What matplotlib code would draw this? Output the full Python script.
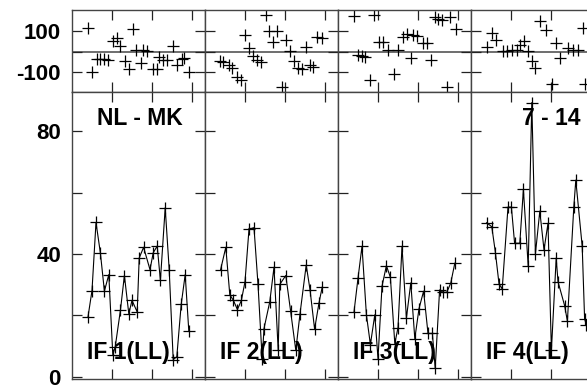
import matplotlib
matplotlib.use("Agg")
import matplotlib.pyplot as plt

plt.rcParams['font.family'] = ['Liberation Sans', 'DejaVu Sans']
plt.rcParams['font.weight'] = 'bold'

# ---- data: main panels (flux) ----
x1 = [4.0, 5.0, 6.0, 7.1, 8.1, 9.2, 10.2, 10.8, 12.1, 13.1, 14.2, 15.0, 16.3, 16.8, 17.9, 19.5, 20.3, 21.3, 22.1, 23.3, 24.3, 25.3, 26.2, 27.3, 28.3, 29.2]
v1 = [19.5, 28.1, 50.3, 40.3, 27.9, 33.3, 7.2, 9.7, 21.6, 33.0, 20.5, 24.9, 21.1, 38.7, 42.2, 34.9, 40.4, 42.6, 31.4, 55.1, 34.9, 5.6, 6.5, 23.6, 33.3, 14.9]
x2 = [3.9, 5.2, 6.2, 7.1, 8.1, 9.1, 10.0, 11.0, 12.25, 13.25, 14.3, 14.75, 16.2, 17.25, 18.3, 18.7, 20.2, 21.4, 22.7, 23.75, 25.3, 26.25, 27.4, 28.5, 29.3]
v2 = [34.9, 42.2, 26.7, 24.9, 21.9, 24.9, 31.0, 48.1, 48.6, 30.1, 5.7, 15.7, 24.5, 35.7, 8.6, 30.1, 33.0, 21.4, 8.6, 20.5, 36.4, 28.4, 15.5, 24.1, 29.2]
x3 = [4.0, 5.0, 6.0, 7.1, 8.1, 9.2, 10.0, 11.0, 12.1, 13.1, 14.2, 15.0, 16.0, 17.1, 18.2, 19.2, 20.25, 21.4, 22.5, 23.6, 24.3, 25.4, 26.3, 27.2, 28.2, 29.2]
v3 = [21.1, 32.1, 42.5, 20.2, 10.5, 20.2, 5.9, 29.5, 36.2, 32.4, 10.8, 16.0, 42.5, 19.1, 30.6, 12.4, 22.2, 27.9, 14.1, 14.1, 2.7, 28.3, 27.5, 27.5, 30.6, 37.0]
x4 = [3.9, 5.2, 6.1, 7.0, 7.8, 9.25, 10.1, 10.9, 12.2, 13.1, 14.3, 15.2, 16.1, 17.2, 18.25, 19.25, 20.1, 21.3, 21.75, 23.4, 24.1, 25.7, 26.2, 27.8, 28.4, 28.8]
v4 = [50.2, 48.9, 40.5, 30.3, 28.6, 55.3, 55.3, 43.5, 43.5, 61.1, 36.0, 89.4, 40.0, 54.0, 41.4, 50.0, 8.6, 38.7, 31.0, 23.2, 18.1, 55.3, 64.1, 42.5, 18.9, 17.0]

# ---- data: residual panels ----
rx1 = [4.1, 5.1, 6.2, 7.0, 8.0, 9.1, 10.2, 11.2, 12.0, 13.25, 14.3, 15.3, 16.0, 17.2, 17.7, 18.8, 20.3, 21.2, 21.8, 22.8, 23.8, 25.2, 26.2, 27.4, 28.1, 29.3]
r1 = [117, -98, -35, -35, -35, -41, 51, 67, 27, -46, -87, 112, 7, -55, 7, 2, -84, -84, -25, -38, -41, 30, -63, -35, -30, -100]
rx2 = [3.75, 4.6, 6.1, 6.7, 7.9, 8.9, 10.0, 11.1, 12.1, 12.9, 13.9, 15.25, 16.0, 17.1, 18.1, 19.2, 20.25, 21.25, 22.25, 23.3, 24.2, 25.25, 26.25, 27.1, 28.1, 29.2]
r2 = [-46, -50, -67, -79, -124, -139, 84, 19, -22, -38, -51, 181, 100, 46, 100, -172, 59, 6, -43, -79, -84, 24, -63, -76, 72, 67]
rx3 = [4.0, 5.1, 5.9, 6.75, 8.0, 9.0, 10.3, 11.2, 12.4, 14.0, 15.1, 16.3, 17.3, 18.2, 18.8, 19.8, 21.3, 22.3, 23.2, 24.25, 25.0, 25.9, 27.2, 28.0, 29.5]
r3 = [177, -15, -22, -25, -141, 181, 46, 48, 11, -111, 11, 72, 89, -30, 84, 79, 43, 43, -38, 173, 160, 154, -173, 173, 112]
rx4 = [4.1, 5.2, 6.25, 8.1, 8.9, 10.2, 11.4, 12.25, 13.25, 14.3, 15.2, 16.0, 17.25, 18.75, 20.2, 21.25, 22.25, 24.3, 25.4, 26.8, 27.9, 28.5]
r4 = [24, 92, 56, 2, 2, 11, 11, 35, 51, 2, -46, -79, 149, 105, -160, 43, -30, 19, 11, 7, 116, -160]

panel_labels = ["IF 1(LL)", "IF 2(LL)", "IF 3(LL)", "IF 4(LL)"]
title_left = "NL - MK"
title_right = "7 - 14"
main_yticks = [0, 20, 40, 60, 80]
main_ylabels = ["0", "", "40", "", "80"]
res_yticks = [-100, 0, 100]
res_ylabels = ["-100", "", "100"]
xticks = [10, 20, 30]

main_x = [x1, x2, x3, x4]
main_v = [v1, v2, v3, v4]
res_x = [rx1, rx2, rx3, rx4]
res_v = [r1, r2, r3, r4]

W, H = 587, 388
fig = plt.figure(figsize=(W / 100, H / 100), dpi=100)

def px_axes(left, top, width, height):
    return fig.add_axes([left / W, 1 - (top + height) / H, width / W, height / H])

lefts = [72, 205, 338, 471]
pw = 133
spine_col = '#444444'
fs = 16

for i in range(4):
    axr = px_axes(lefts[i], 10, pw, 81.5)
    axm = px_axes(lefts[i], 91.5, pw, 287.5)
    for ax in (axr, axm):
        ax.set_xlim(0, 33.25)
        ax.set_xticks(xticks)
        ax.set_xticklabels([])
        ax.tick_params(direction='in', length=7, width=0.9, color='#222222',
                       top=True, right=True, bottom=True, left=True,
                       labelsize=fs, pad=8)
        for s in ax.spines.values():
            s.set_color(spine_col)
            s.set_linewidth(1.0)
    # residuals
    axr.set_ylim(-195, 205)
    axr.set_yticks(res_yticks)
    axr.axhline(0, color='#555555', lw=1.2, zorder=1)
    axr.plot(res_x[i], res_v[i], linestyle='none', marker='+', ms=9,
             mew=0.9, color='black', clip_on=True)
    # main
    axm.set_ylim(-0.75, 93)
    axm.set_yticks(main_yticks)
    axm.plot(main_x[i], main_v[i], '-', color='black', lw=0.8,
             marker='+', ms=9, mew=0.9)
    axm.text(15 / pw, (379 - 359) / 287.5, panel_labels[i], transform=axm.transAxes,
             fontsize=16.5, fontweight='bold', ha='left', va='baseline')
    if i == 0:
        axr.set_yticklabels(res_ylabels, fontweight='bold')
        axm.set_yticklabels(main_ylabels, fontweight='bold')
        axm.text(25 / pw, (379 - 125) / 287.5, title_left, transform=axm.transAxes,
                 fontsize=16.5, fontweight='bold', ha='left', va='baseline')
    else:
        axr.set_yticklabels([])
        axm.set_yticklabels([])
    if i == 3:
        axm.text(1 - 23 / pw, (379 - 125) / 287.5, title_right, transform=axm.transAxes,
                 fontsize=16.5, fontweight='bold', ha='right', va='baseline')

fig.savefig("out.png", dpi=100)
